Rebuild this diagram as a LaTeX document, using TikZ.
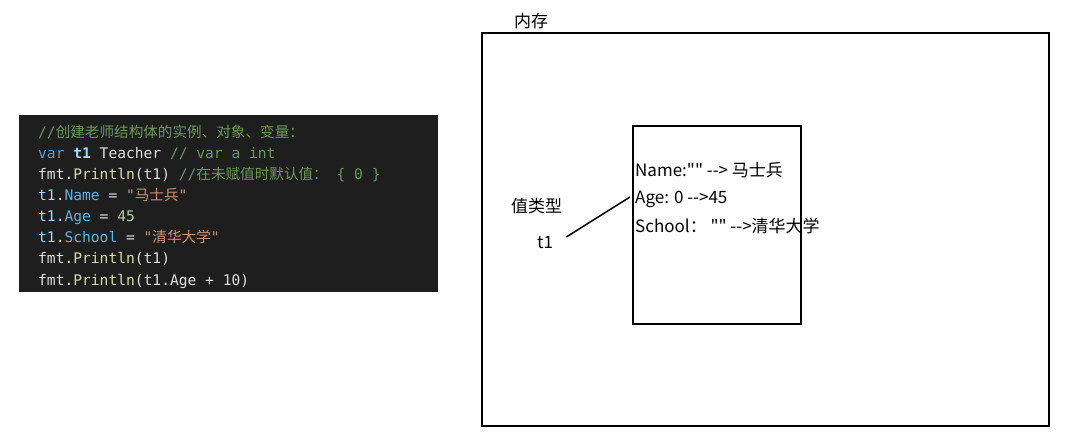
\documentclass[tikz,border=0pt]{standalone}
\usepackage{fontspec}
\newfontfamily\cjk{Noto Sans CJK SC}
\newfontfamily\codefont{DejaVu Sans Mono}
\definecolor{codebg}{HTML}{1E1E1E}
\definecolor{ccomment}{HTML}{6A9955}
\definecolor{ckey}{HTML}{569CD6}
\definecolor{cvar}{HTML}{9CDCFE}
\definecolor{cfield}{HTML}{5CB3E8}
\definecolor{cplain}{HTML}{E0E0E0}
\definecolor{cfunc}{HTML}{DCDCAA}
\definecolor{cstr}{HTML}{CE9178}
\definecolor{cnum}{HTML}{B5CEA8}
\tikzset{
  codeline/.style={anchor=base west, inner sep=0pt, text=cplain, font=\codefont\fontsize{14.6}{17}\selectfont},
  uitext/.style={anchor=base west, inner sep=0pt, text=black, font=\cjk\fontsize{17}{20}\selectfont},
  boxline/.style={draw=black, line width=1.7pt},
}
\newcommand{\cm}[1]{\textcolor{ccomment}{#1}}
\newcommand{\kw}[1]{\textcolor{ckey}{#1}}
\newcommand{\vr}[1]{\textcolor{cvar}{#1}}
\newcommand{\fd}[1]{\textcolor{cfield}{#1}}
\newcommand{\fn}[1]{\textcolor{cfunc}{#1}}
\newcommand{\st}[1]{\textcolor{cstr}{#1}}
\newcommand{\nm}[1]{\textcolor{cnum}{#1}}
\begin{document}
\begin{tikzpicture}[x=1pt,y=-1pt]
\useasboundingbox (0,0) rectangle (1065,436);
\fill[white] (0,0) rectangle (1065,436);
% code panel
\fill[codebg] (19,115) rectangle (438,292);
\node[codeline] (c1) at (38,137) {\cm{//{\cjk 创建老师结构体的实例、对象、变量：}}};
\node[codeline] (c2) at (38,158) {\kw{var} \textbf{\vr{t1}} Teacher \cm{// var a int}};
\node[codeline] (c3) at (38,179) {fmt.\fn{Println}(t1) \cm{//{\cjk 在未赋值时默认值：} \{ 0 \}}};
\node[codeline] (c4) at (38,200) {\vr{t1}.\fd{Name} = \st{"{\cjk 马士兵}"}};
\node[codeline] (c5) at (38,221) {\vr{t1}.\fd{Age} = \nm{45}};
\node[codeline] (c6) at (38,242) {\vr{t1}.\fd{School} = \st{"{\cjk 清华大学}"}};
\node[codeline] (c7) at (38,263) {fmt.\fn{Println}(t1)};
\node[codeline] (c8) at (38,285) {fmt.\fn{Println}(t1.Age + 10)};
% memory
\node[boxline, rectangle, minimum width=567pt, minimum height=393pt, anchor=north west, inner sep=0pt] (mem) at (481,32) {};
\node[uitext] (memlabel) at (514,28) {内存};
\node[boxline, rectangle, minimum width=168pt, minimum height=198pt, anchor=north west, inner sep=0pt] (obj) at (632,125) {};
\node[uitext] (fname) at (635,176) {Name:"" --> 马士兵};
\node[uitext] (fage) at (635,203) {Age: 0 -->45};
\node[uitext] (fschool) at (635,232) {School： "" -->清华大学};
\node[uitext] (vtype) at (511,212) {值类型};
\node[uitext] (t1) at (537,248) {t1};
\coordinate (agept) at (630,197);
\draw[line width=1.5pt] ([xshift=13pt,yshift=5pt]t1.east) -- (agept);
\end{tikzpicture}
\end{document}
